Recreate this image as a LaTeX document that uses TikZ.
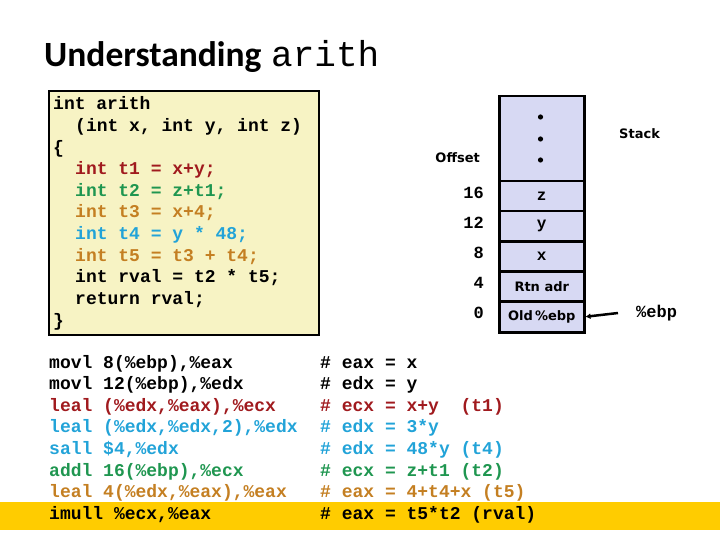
\documentclass[tikz,border=0pt]{standalone}
\usepackage{fontspec}
\setmainfont{DejaVu Sans}
\setmonofont{Liberation Mono}
\newfontfamily\titlefont{Carlito}
\usetikzlibrary{arrows.meta}
\definecolor{cred}{HTML}{A01A1E}
\definecolor{cgreen}{HTML}{1F9650}
\definecolor{corange}{HTML}{C47F22}
\definecolor{cblue}{HTML}{22A3D8}
\definecolor{codebg}{HTML}{F7F3C4}
\definecolor{stackbg}{HTML}{D7D9F3}
\definecolor{hilite}{HTML}{FFCC00}
\tikzset{
  code/.style={anchor=base west, inner sep=0pt, font=\fontsize{18}{20}\selectfont\ttfamily\bfseries\frenchspacing},
  cell/.style={draw=black, line width=2.5pt, fill=stackbg, minimum width=85pt, minimum height=30pt, inner sep=0pt, anchor=north west},
  celltxt/.style={font=\fontsize{16}{18}\selectfont\ttfamily\bfseries},
  lbl/.style={font=\fontsize{13}{15}\selectfont\bfseries, inner sep=0pt},
  offs/.style={anchor=east, inner sep=0pt, font=\fontsize{17}{19}\selectfont\ttfamily\bfseries},
  arr/.style={-{Latex[length=5pt,width=6pt]}, line width=2.5pt}
}
\begin{document}
\begin{tikzpicture}[x=1pt,y=-1pt]
\useasboundingbox (0,0) rectangle (720,540);
% title
\node[anchor=base west, inner sep=0pt] (title) at (44,67)
  {\titlefont\bfseries\fontsize{35.5}{38}\selectfont Understanding};
\node[anchor=base west, inner sep=0pt] (titlecode) at (271,67)
  {\ttfamily\fontsize{36}{38}\selectfont arith};
% highlight band
\fill[hilite] (0,502) rectangle (720,530);
% code box
\node[draw=black, line width=2pt, fill=codebg, minimum width=270pt, minimum height=244pt, anchor=north west, inner sep=0pt] (codebox) at (48,90) {};
\node[code] (c1) at (53,110) {int arith};
\node[code] (c2) at (75,131.6) {(int x, int y, int z)};
\node[code] (c3) at (53,153.2) {\{};
\node[code, text=cred] (c4) at (75,174.8) {int t1 = x+y;};
\node[code, text=cgreen] (c5) at (75,196.4) {int t2 = z+t1;};
\node[code, text=corange] (c6) at (75,218) {int t3 = x+4;};
\node[code, text=cblue] (c7) at (75,239.6) {int t4 = y * 48;};
\node[code, text=corange] (c8) at (75,261.2) {int t5 = t3 + t4;};
\node[code] (c9) at (75,282.8) {int rval = t2 * t5;};
\node[code] (c10) at (75,304.4) {return rval;};
\node[code] (c11) at (53,326) {\}};
% assembly
\node[code] (a1) at (49,368) {movl 8(\%ebp),\%eax};
\node[code] (a2) at (49,389.6) {movl 12(\%ebp),\%edx};
\node[code, text=cred] (a3) at (49,411.2) {leal (\%edx,\%eax),\%ecx};
\node[code, text=cblue] (a4) at (49,432.8) {leal (\%edx,\%edx,2),\%edx};
\node[code, text=cblue] (a5) at (49,454.4) {sall \$4,\%edx};
\node[code, text=cgreen] (a6) at (49,476) {addl 16(\%ebp),\%ecx};
\node[code, text=corange] (a7) at (49,497.6) {leal 4(\%edx,\%eax),\%eax};
\node[code] (a8) at (49,519.2) {imull \%ecx,\%eax};
% comments
\node[code] (m1) at (320,368) {\# eax = x};
\node[code] (m2) at (320,389.6) {\# edx = y};
\node[code, text=cred] (m3) at (320,411.2) {\# ecx = x+y\ \ (t1)};
\node[code, text=cblue] (m4) at (320,432.8) {\# edx = 3*y};
\node[code, text=cblue] (m5) at (320,454.4) {\# edx = 48*y (t4)};
\node[code, text=cgreen] (m6) at (320,476) {\# ecx = z+t1 (t2)};
\node[code, text=corange] (m7) at (320,497.6) {\# eax = 4+t4+x (t5)};
\node[code] (m8) at (320,519.2) {\# eax = t5*t2 (rval)};
% stack
\node[cell, minimum height=85pt] (top) at (498,95) {};
\node[cell] (sz) at (498,180) {};
\node[cell] (sy) at (498,210) {};
\node[cell] (sx) at (498,240) {};
\node[cell] (srtn) at (498,270) {};
\node[cell, minimum height=31pt] (sold) at (498,300) {};
\node[celltxt] at (sz.center) {z};
\node[celltxt] at (sy.center) {y};
\node[celltxt] at (sx.center) {x};
\node[lbl] at (srtn.center) {Rtn adr};
\node[lbl] at (sold.center) {Old\,\%ebp};
\fill (540.5,117) circle (2.6pt);
\fill (540.5,139) circle (2.6pt);
\fill (540.5,160) circle (2.6pt);
% offsets
\node[lbl, anchor=east] (offset) at (480,158) {Offset};
\node[offs] (o16) at (484,193) {16};
\node[offs] (o12) at (484,223) {12};
\node[offs] (o8) at (484,253) {8};
\node[offs] (o4) at (484,283) {4};
\node[offs] (o0) at (484,313) {0};
\node[lbl, anchor=west] (stack) at (619,134) {Stack};
\node[anchor=west, inner sep=0pt, font=\fontsize{17}{19}\selectfont\ttfamily\bfseries] (ebp) at (636,313) {\%ebp};
\coordinate (arrstart) at (618,313);
\draw[arr] (arrstart) -- (sold.east);
\end{tikzpicture}
\end{document}
